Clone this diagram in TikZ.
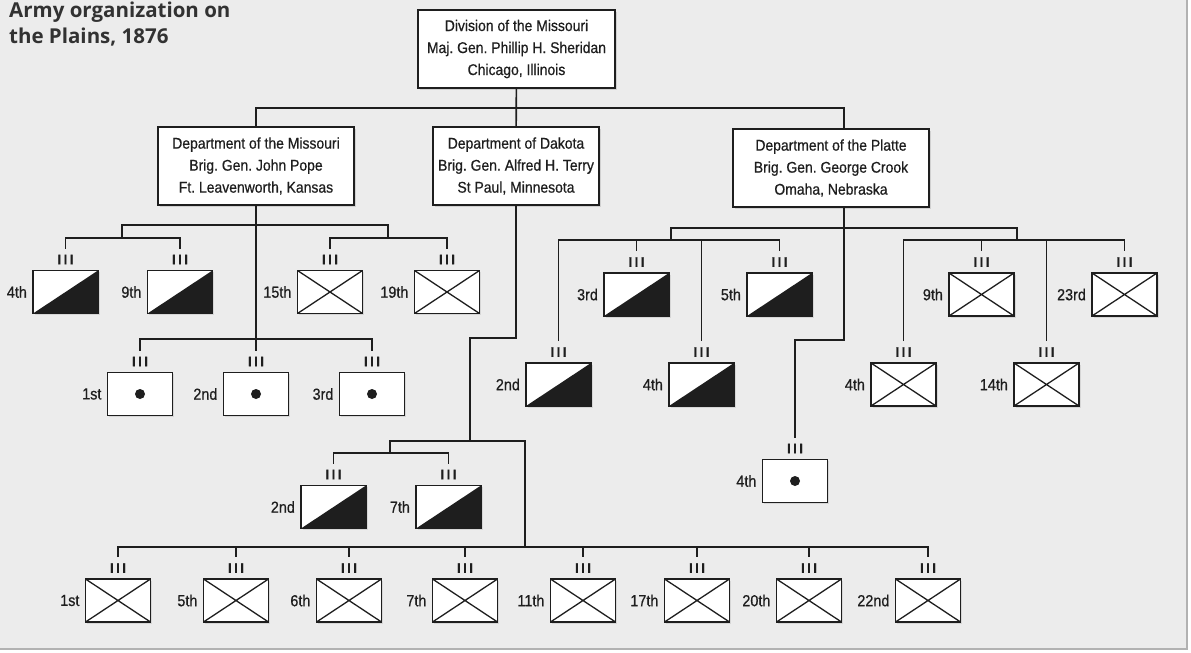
\documentclass[tikz,border=0pt]{standalone}
\usepackage{fontspec}
\setmainfont{Liberation Sans}
\newfontfamily\boxfont{Liberation Sans}[FakeStretch=0.9,FakeBold=0.6]
\newfontfamily\titlefont{Open Sans}
\usetikzlibrary{shadows}
\definecolor{paper}{RGB}{236,236,236}
\definecolor{ink}{RGB}{30,30,30}
\definecolor{titleink}{RGB}{50,50,50}
\frenchspacing

\begin{document}
\begin{tikzpicture}[x=1pt,y=-1pt,color=ink,label distance=5pt]
  \tikzstyle{tie}=[line width=1.6pt]
  \tikzstyle{leaf}=[shorten >=21pt]
  \tikzstyle{pair}=[shorten <=21pt,shorten >=21pt]
  \tikzstyle{dept}=[rectangle,draw,line width=1.8pt,fill=white,align=center,minimum height=78pt,
    font=\boxfont\fontsize{15.5}{22}\selectfont,drop shadow={opacity=.25,shadow xshift=2pt,shadow yshift=-2pt}]
  \tikzstyle{iii}=[inner sep=0pt,font=\boxfont\bfseries\fontsize{14}{14}\selectfont]
  \tikzstyle{ord}=[inner sep=0pt,font=\boxfont\fontsize{16}{16}\selectfont]
  \tikzstyle{unit}=[rectangle,draw,line width=1.8pt,fill=white,minimum width=65pt,minimum height=43pt,inner sep=0pt,
    drop shadow={opacity=.2,shadow xshift=1.5pt,shadow yshift=-1.5pt},
    label={[iii]above:I\kern2.6pt I\kern2.6pt I}]
  \tikzstyle{cav}=[unit,path picture={\fill[ink] (path picture bounding box.south west) -- (path picture bounding box.south east)
    -- (path picture bounding box.north east) -- cycle;}]
  \tikzstyle{inf}=[unit,path picture={\draw[ink,line width=1.3pt] (path picture bounding box.south west) -- (path picture bounding box.north east)
    (path picture bounding box.north west) -- (path picture bounding box.south east);}]
  \tikzstyle{art}=[unit,path picture={\fill[ink] (path picture bounding box.center) circle (5pt);}]

  % page
  \useasboundingbox (0,0) rectangle (1191,653);
  \fill[white] (0,0) rectangle (1191,653);
  \fill[paper] (0,0) rectangle (1187,649);
  \draw[black!30,line width=1.5pt] (0,649) -- (1187,649) -- (1187,0);

  \node(title) at (9,2) [anchor=north west,align=left,inner sep=0pt,text=titleink,
    font=\titlefont\bfseries\fontsize{20.5}{26}\selectfont]{Army organization on\\the Plains, 1876};

  % headquarters
  \node(div) at (516.5,49) [dept,minimum width=197pt]{Division of the Missouri\\Maj. Gen. Phillip H. Sheridan\\Chicago, Illinois};
  \node(mo) at (256,166) [dept,minimum width=196pt]{Department of the Missouri\\Brig. Gen. John Pope\\Ft. Leavenworth, Kansas};
  \node(dk) at (516,166) [dept,minimum width=166pt]{Department of Dakota\\Brig. Gen. Alfred H. Terry\\St Paul, Minnesota};
  \node(pl) at (831,168) [dept,minimum width=196pt]{Department of the Platte\\Brig. Gen. George Crook\\Omaha, Nebraska};

  % Department of the Missouri
  \node(mo-c4) at (65.5,292) [cav,label={[ord]left:4th}]{};
  \node(mo-c9) at (180,292) [cav,label={[ord]left:9th}]{};
  \node(mo-i15) at (330,292) [inf,label={[ord]left:15th}]{};
  \node(mo-i19) at (447,292) [inf,label={[ord]left:19th}]{};
  \node(mo-a1) at (140,394) [art,label={[ord]left:1st}]{};
  \node(mo-a2) at (256,394) [art,label={[ord]left:2nd}]{};
  \node(mo-a3) at (372,394) [art,label={[ord]left:3rd}]{};

  % Department of Dakota
  \node(dk-c2) at (333.5,507) [cav,label={[ord]left:2nd}]{};
  \node(dk-c7) at (448.5,507) [cav,label={[ord]left:7th}]{};
  \node(dk-i1) at (118,600.5) [inf,label={[ord]left:1st}]{};
  \node(dk-i5) at (236,600.5) [inf,label={[ord]left:5th}]{};
  \node(dk-i6) at (349,600.5) [inf,label={[ord]left:6th}]{};
  \node(dk-i7) at (465,600.5) [inf,label={[ord]left:7th}]{};
  \node(dk-i11) at (583,600.5) [inf,label={[ord]left:11th}]{};
  \node(dk-i17) at (697,600.5) [inf,label={[ord]left:17th}]{};
  \node(dk-i20) at (809,600.5) [inf,label={[ord]left:20th}]{};
  \node(dk-i22) at (928,600.5) [inf,label={[ord]left:22nd}]{};

  % Department of the Platte
  \node(pl-c3) at (636.5,294.5) [cav,label={[ord]left:3rd}]{};
  \node(pl-c5) at (779.5,294.5) [cav,label={[ord]left:5th}]{};
  \node(pl-i9) at (981.5,294.5) [inf,label={[ord]left:9th}]{};
  \node(pl-i23) at (1124.5,294.5) [inf,label={[ord]left:23rd}]{};
  \node(pl-c2) at (558.5,384.5) [cav,label={[ord]left:2nd}]{};
  \node(pl-c4) at (701.5,384.5) [cav,label={[ord]left:4th}]{};
  \node(pl-i4) at (903.5,384.5) [inf,label={[ord]left:4th}]{};
  \node(pl-i14) at (1046.5,384.5) [inf,label={[ord]left:14th}]{};
  \node(pl-a4) at (795,481) [art,label={[ord]left:4th}]{};

  % chain of command
  \coordinate(top-bar) at (516,108);
  \coordinate(pl-in) at ([xshift=13pt]pl.north);
  \coordinate(pl-out) at ([xshift=13pt]pl.south);
  \draw[tie](div)--(dk);
  \draw[tie](mo)|-(top-bar)-|(pl-in);

  \coordinate(mo-j0) at (256,225);
  \coordinate(mo-j1) at (122,238);
  \coordinate(mo-j2) at (388,238);
  \coordinate(mo-ja) at (256,339);
  \draw[tie,leaf](mo)--(mo-a2);
  \draw[tie](mo-j1)|-(mo-j0)-|(mo-j2);
  \draw[tie,pair](mo-c4)|-(mo-j1)-|(mo-c9);
  \draw[tie,pair](mo-i15)|-(mo-j2)-|(mo-i19);
  \draw[tie,pair](mo-a1)|-(mo-ja)-|(mo-a3);

  \coordinate(dk-bend) at (470,338);
  \coordinate(dk-hub) at (470,441);
  \coordinate(dk-cbar) at (390,453);
  \coordinate(dk-ibar) at (525,547);
  \draw[tie](dk)|-(dk-bend)--(dk-hub);
  \draw[tie](dk-cbar)|-(dk-hub)-|(dk-ibar);
  \draw[tie,pair](dk-c2)|-(dk-cbar)-|(dk-c7);
  \draw[tie,pair](dk-i1)|-(dk-ibar)-|(dk-i22);
  \draw[tie,leaf](dk-ibar-|dk-i5)--(dk-i5);
  \draw[tie,leaf](dk-ibar-|dk-i6)--(dk-i6);
  \draw[tie,leaf](dk-ibar-|dk-i7)--(dk-i7);
  \draw[tie,leaf](dk-ibar-|dk-i11)--(dk-i11);
  \draw[tie,leaf](dk-ibar-|dk-i17)--(dk-i17);
  \draw[tie,leaf](dk-ibar-|dk-i20)--(dk-i20);

  \coordinate(pl-bar) at (844,228);
  \coordinate(pl-lj) at (671,240);
  \coordinate(pl-rj) at (1017,240);
  \coordinate(pl-bend) at (795,340);
  \draw[tie,leaf](pl-out)|-(pl-bend)--(pl-a4);
  \draw[tie](pl-lj)|-(pl-bar)-|(pl-rj);
  \draw[tie,pair](pl-c2)|-(pl-lj)-|(pl-c5);
  \draw[tie,pair](pl-i4)|-(pl-rj)-|(pl-i23);
  \draw[tie,leaf](pl-lj-|pl-c3)--(pl-c3);
  \draw[tie,leaf](pl-lj-|pl-c4)--(pl-c4);
  \draw[tie,leaf](pl-rj-|pl-i9)--(pl-i9);
  \draw[tie,leaf](pl-rj-|pl-i14)--(pl-i14);
\end{tikzpicture}
\end{document}
